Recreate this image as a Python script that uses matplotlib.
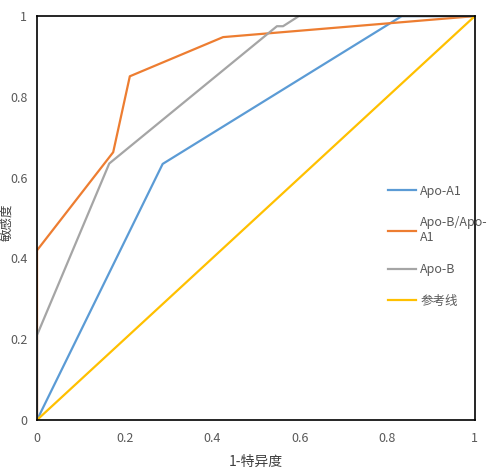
import matplotlib
matplotlib.use('Agg')
import matplotlib.pyplot as plt

plt.rcParams['font.family'] = ['Noto Sans CJK SC', 'DejaVu Sans']

# ROC curve points
apoa1_x = [0, 0.287, 0.833, 1]
apoa1_y = [0, 0.634, 1, 1]

ratio_x = [0, 0, 0.174, 0.212, 0.425, 1]
ratio_y = [0, 0.42, 0.663, 0.851, 0.948, 1]

apob_x = [0, 0, 0.165, 0.548, 0.562, 0.598, 1]
apob_y = [0, 0.21, 0.635, 0.975, 0.975, 1, 1]

ref_x = [0, 1]
ref_y = [0, 1]

labels = ['Apo-A1', 'Apo-B/Apo-\nA1', 'Apo-B', '参考线']
colors = ['#5B9BD5', '#ED7D31', '#A5A5A5', '#FFC000']
ticks = [0, 0.2, 0.4, 0.6, 0.8, 1]
tick_labels = ['0', '0.2', '0.4', '0.6', '0.8', '1']

fig = plt.figure(figsize=(4.87, 4.74), dpi=100)
ax = fig.add_axes([0.076, 0.114, 0.899, 0.852])

ax.plot(apoa1_x, apoa1_y, color=colors[0], lw=1.6, label=labels[0])
ax.plot(ratio_x, ratio_y, color=colors[1], lw=1.6, label=labels[1])
ax.plot(apob_x, apob_y, color=colors[2], lw=1.6, label=labels[2])
ax.plot(ref_x, ref_y, color=colors[3], lw=1.6, label=labels[3])

ax.set_xlim(0, 1)
ax.set_ylim(0, 1)
ax.set_xticks(ticks)
ax.set_xticklabels(tick_labels)
ax.set_yticks(ticks)
ax.set_yticklabels(tick_labels)
ax.tick_params(axis='x', length=0, labelsize=9, labelcolor='#595959', pad=9)
ax.tick_params(axis='y', length=0, labelsize=9, labelcolor='#595959', pad=7)
for s in ax.spines.values():
    s.set_color('black')
    s.set_linewidth(1.2)

ax.set_xlabel('1-特异度', fontsize=10, color='#404040', labelpad=7)
ax.set_ylabel('敏感度', fontsize=9, color='#404040')
ax.yaxis.set_label_coords(-0.055, 0.49)

leg = ax.legend(loc='upper left', bbox_to_anchor=(0.801, 0.583), frameon=False,
                fontsize=9, handlelength=2.3, labelspacing=1.5, handletextpad=0.3,
                borderpad=0, borderaxespad=0)
for t in leg.get_texts():
    t.set_color('#595959')

fig.savefig('out.png', dpi=100)
